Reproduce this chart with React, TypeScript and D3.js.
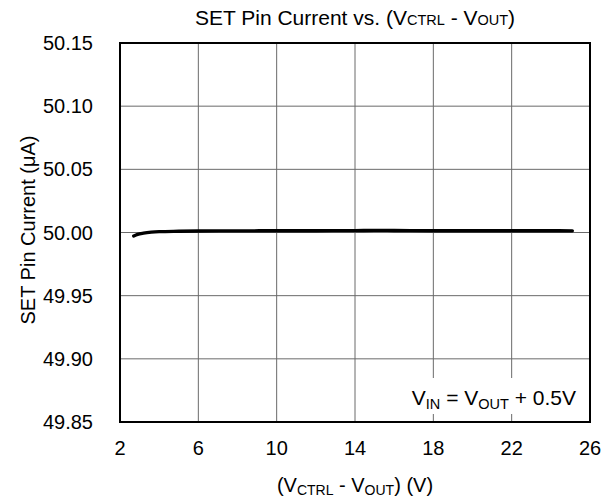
import React from "react";
import * as d3 from "d3";

const xTicks = [2, 6, 10, 14, 18, 22, 26];
const yTicks = [49.85, 49.9, 49.95, 50.0, 50.05, 50.1, 50.15];
const xValues = [2.7, 2.9, 3.2, 3.6, 4, 5, 6, 8, 10, 12, 14, 15, 16, 18, 20, 22, 24, 25.1];
const yValues = [49.9972, 49.9985, 49.9995, 50.0003, 50.0007, 50.001, 50.0012, 50.0013, 50.0014, 50.0014, 50.0015, 50.0017, 50.0016, 50.0014, 50.0014, 50.0014, 50.0014, 50.0013];

const W = 604, H = 502;
const left = 120, right = 590, top = 43, bottom = 422;
const FONT = "Liberation Sans, Arial, Helvetica, sans-serif";

export default function App() {
  const x = d3.scaleLinear().domain([2, 26]).range([left, right]);
  const y = d3.scaleLinear().domain([49.85, 50.15]).range([bottom, top]);
  const pts = xValues.map((v, i) => [v, yValues[i]] as [number, number]);
  const line = d3.line<[number, number]>().x(d => x(d[0])).y(d => y(d[1])).curve(d3.curveMonotoneX);
  return (
    <svg width={W} height={H} style={{ position: "absolute", left: 0, top: 0 }} fontFamily={FONT}>
      <rect x={0} y={0} width={W} height={H} fill="#fff" />
      {xTicks.slice(1, -1).map(t => (
        <line key={"gx" + t} x1={x(t)} x2={x(t)} y1={top} y2={bottom} stroke="#6a6a6a" strokeWidth={1} />
      ))}
      {yTicks.slice(1, -1).map(t => (
        <line key={"gy" + t} x1={left} x2={right} y1={y(t)} y2={y(t)} stroke="#6a6a6a" strokeWidth={1} />
      ))}
      <rect x={410} y={378} width={right - 411} height={36} fill="#fff" />
      <text x={576} y={405} fontSize={21} textAnchor="end" fill="#000">
        V<tspan fontSize={14.5} dy={4}>IN</tspan>
        <tspan dy={-4}> = V</tspan>
        <tspan fontSize={14.5} dy={4}>OUT</tspan>
        <tspan dy={-4}> + 0.5V</tspan>
      </text>
      <path d={line(pts) || ""} fill="none" stroke="#000" strokeWidth={3.3} strokeLinecap="round" />
      <rect x={left} y={top} width={right - left} height={bottom - top} fill="none" stroke="#000" strokeWidth={2} />
      {yTicks.map(t => (
        <text key={"ty" + t} x={93} y={y(t) + 7} fontSize={20} textAnchor="end" fill="#000">
          {t.toFixed(2)}
        </text>
      ))}
      {xTicks.map(t => (
        <text key={"tx" + t} x={x(t)} y={455} fontSize={20} textAnchor="middle" fill="#000">
          {t}
        </text>
      ))}
      <text x={355} y={25} fontSize={21} textAnchor="middle" fill="#000">
        SET Pin Current vs. (V<tspan fontSize={14.5}>CTRL</tspan> - V<tspan fontSize={14.5}>OUT</tspan>)
      </text>
      <text x={355} y={492} fontSize={20} textAnchor="middle" fill="#000">
        (V<tspan fontSize={14} dy={3}>CTRL</tspan>
        <tspan dy={-3}> - V</tspan>
        <tspan fontSize={14} dy={3}>OUT</tspan>
        <tspan dy={-3}>) (V)</tspan>
      </text>
      <text transform={`translate(35,230) rotate(-90)`} fontSize={20} textAnchor="middle" fill="#000">
        SET Pin Current (μA)
      </text>
    </svg>
  );
}
